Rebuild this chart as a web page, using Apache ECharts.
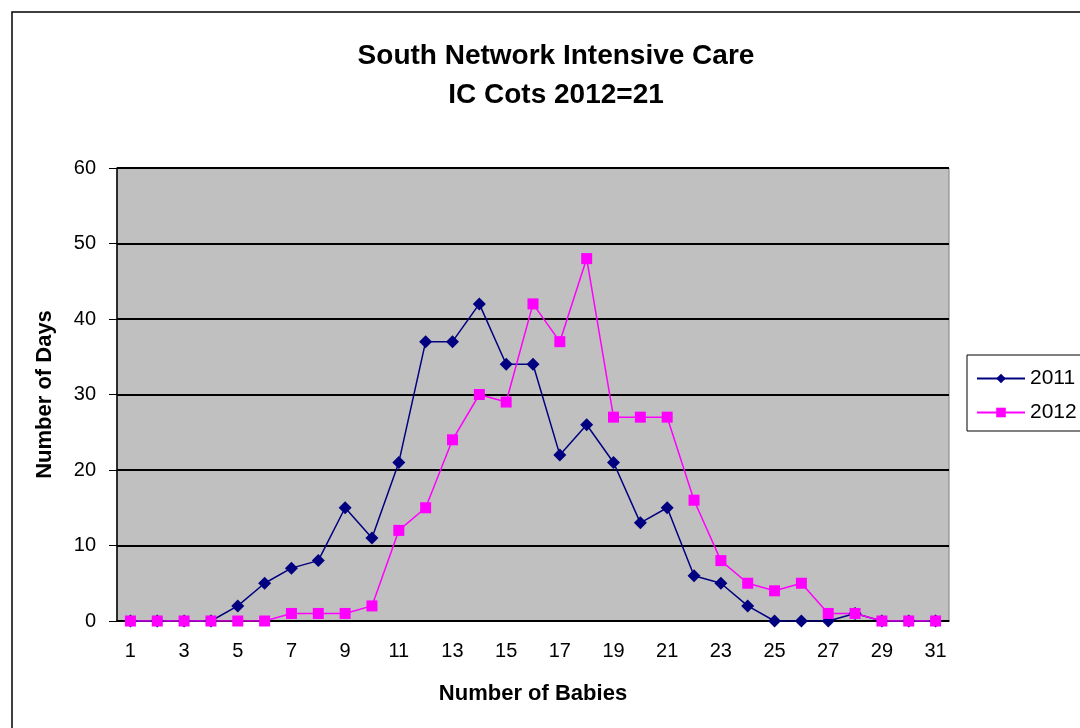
<!DOCTYPE html>
<html>
<head>
<meta charset="utf-8">
<script src="https://cdn.jsdelivr.net/npm/echarts@6/dist/echarts.min.js"></script>
<style>
  html, body { margin: 0; padding: 0; background: #fff; }
  #chart { width: 1080px; height: 728px; }
</style>
</head>
<body>
<div id="chart"></div>
<script>
const babies = Array.from({ length: 31 }, (_, i) => String(i + 1))
const days2011 = [0, 0, 0, 0, 2, 5, 7, 8, 15, 11, 21, 37, 37, 42, 34, 34, 22, 26, 21, 13, 15, 6, 5, 2, 0, 0, 0, 1, 0, 0, 0]
const days2012 = [0, 0, 0, 0, 0, 0, 1, 1, 1, 2, 12, 15, 24, 30, 29, 42, 37, 48, 27, 27, 27, 16, 8, 5, 4, 5, 1, 1, 0, 0, 0]

const font = 'Liberation Sans, Arial, sans-serif'
const chart = echarts.init(document.getElementById('chart'))

chart.setOption({
  animation: false,
  backgroundColor: '#fff',
  graphic: [
    {
      type: 'rect',
      shape: { x: 12, y: 12, width: 1100, height: 800 },
      style: { fill: 'none', stroke: '#000', lineWidth: 1.5 },
      silent: true
    }
  ],
  title: {
    text: 'South Network Intensive Care\nIC Cots 2012=21',
    left: 551,
    textAlign: 'center',
    top: 32,
    textStyle: { fontFamily: font, fontSize: 28, fontWeight: 'bold', color: '#000', lineHeight: 39 }
  },
  legend: {
    left: 967,
    top: 355,
    orient: 'vertical',
    borderColor: '#000',
    borderWidth: 1,
    padding: [13, 12, 8, 9],
    itemWidth: 48,
    itemHeight: 12,
    itemGap: 13,
    textStyle: { fontFamily: font, fontSize: 21, color: '#000' },
    data: ['2011', '2012']
  },
  grid: {
    left: 117,
    right: 131,
    top: 168,
    bottom: 107,
    show: true,
    backgroundColor: '#C0C0C0',
    borderColor: '#808080',
    borderWidth: 1
  },
  xAxis: {
    type: 'category',
    data: babies,
    boundaryGap: true,
    name: 'Number of Babies',
    nameLocation: 'middle',
    nameGap: 62,
    nameTextStyle: { fontFamily: font, fontSize: 22, fontWeight: 'bold', color: '#000' },
    axisLine: { lineStyle: { color: '#000', width: 1.5 } },
    axisTick: { interval: 0, length: 7, lineStyle: { color: '#000' } },
    axisLabel: { interval: 1, fontFamily: font, fontSize: 20, color: '#000', margin: 20 },
    splitLine: { show: false }
  },
  yAxis: {
    type: 'value',
    min: 0,
    max: 60,
    interval: 10,
    name: 'Number of Days',
    nameLocation: 'middle',
    nameGap: 61,
    nameTextStyle: { fontFamily: font, fontSize: 22, fontWeight: 'bold', color: '#000' },
    axisLine: { show: true, lineStyle: { color: '#000', width: 1.5 } },
    axisTick: { show: true, length: 8, lineStyle: { color: '#000' } },
    axisLabel: { fontFamily: font, fontSize: 20, color: '#000', margin: 21 },
    splitLine: { lineStyle: { color: '#000', width: 2 } }
  },
  series: [
    {
      name: '2011',
      type: 'line',
      data: days2011,
      symbol: 'diamond',
      symbolSize: 13,
      itemStyle: { color: '#000080' },
      lineStyle: { color: '#000080', width: 1.5 }
    },
    {
      name: '2012',
      type: 'line',
      data: days2012,
      symbol: 'rect',
      symbolSize: 11,
      itemStyle: { color: '#FF00FF' },
      lineStyle: { color: '#FF00FF', width: 1.5 }
    }
  ]
})
</script>
</body>
</html>
